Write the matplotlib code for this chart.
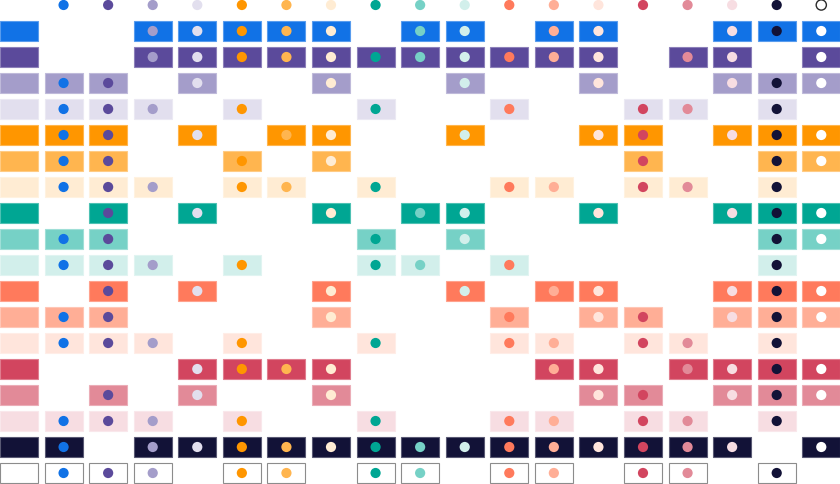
import numpy as np
import matplotlib
matplotlib.use("Agg")
import matplotlib.pyplot as plt

# palette, same order for rows and columns
names = ["blue", "purple", "purple-light", "purple-lighter",
         "orange", "orange-light", "orange-lighter",
         "teal", "teal-light", "teal-lighter",
         "coral", "coral-light", "coral-lighter",
         "crimson", "crimson-light", "crimson-lighter",
         "navy", "white"]
hexes = ["#1172e6", "#5b4a9b", "#a49dca", "#e2dfee",
         "#ff9600", "#ffb54f", "#ffecd3",
         "#00a693", "#76d1c6", "#d2efeb",
         "#ff7a5c", "#ffae96", "#ffe5dc",
         "#d2455f", "#e28a98", "#f7dde2",
         "#121237", "#ffffff"]

# for each background row: which foreground colours pass (0-based index)
passes = [
    [2, 3, 4, 5, 6, 8, 9, 11, 12, 15, 16, 17],
    [2, 3, 4, 5, 6, 7, 8, 9, 10, 11, 12, 14, 15, 17],
    [0, 1, 3, 6, 9, 12, 15, 16, 17],
    [0, 1, 2, 4, 7, 10, 13, 14, 16],
    [0, 1, 3, 5, 6, 9, 12, 13, 15, 16, 17],
    [0, 1, 4, 6, 13, 16, 17],
    [0, 1, 2, 4, 5, 7, 10, 11, 13, 14, 16],
    [1, 3, 6, 8, 9, 12, 15, 16, 17],
    [0, 1, 7, 9, 16, 17],
    [0, 1, 2, 4, 7, 8, 10, 16],
    [1, 3, 6, 9, 11, 12, 15, 16, 17],
    [0, 1, 6, 10, 12, 13, 15, 16, 17],
    [0, 1, 2, 4, 7, 10, 11, 13, 14, 16],
    [3, 4, 5, 6, 11, 12, 14, 15, 16, 17],
    [1, 3, 6, 12, 13, 15, 16, 17],
    [0, 1, 2, 4, 7, 10, 11, 13, 14, 16],
    [0, 2, 3, 4, 5, 6, 7, 8, 9, 10, 11, 12, 13, 14, 15, 17],
    [0, 1, 2, 4, 5, 7, 8, 10, 11, 13, 14, 16],
]


def lighten(c, f):
    rgb = np.array(matplotlib.colors.to_rgb(c))
    return tuple(rgb + (1 - rgb) * f)


n = len(hexes)
fig = plt.figure(figsize=(8.4, 4.84), dpi=100)
ax = fig.add_axes([0, 0, 1, 1])
ax.set_xlim(-0.4263, 18.42)
ax.set_ylim(18.423, -0.1923)
ax.axis("off")

bw = 38 / 44.57
bh = 20 / 26.0
dot = 54

# header dots
xs = np.arange(1, n + 1)
ax.scatter(xs, np.zeros(n), s=dot, c=hexes,
           edgecolors=["none"] * (n - 1) + ["#2b2b2b"], linewidths=1.0, zorder=3)

for r in range(n):
    row = r + 1
    col = hexes[r]
    if names[r] == "white":
        edge = "#8c8c8c"
    else:
        edge = lighten(col, 0.3)
    cols = [0] + [c + 1 for c in passes[r]]
    ax.bar(cols, bh, bottom=row - bh / 2, width=bw, color=col,
           edgecolor=edge, linewidth=0.8, zorder=1)
    fg = [hexes[c] for c in passes[r]]
    ax.scatter([c + 1 for c in passes[r]], [row] * len(passes[r]), s=dot,
               c=fg, edgecolors="none", zorder=3)

fig.savefig("out.png", dpi=100)
